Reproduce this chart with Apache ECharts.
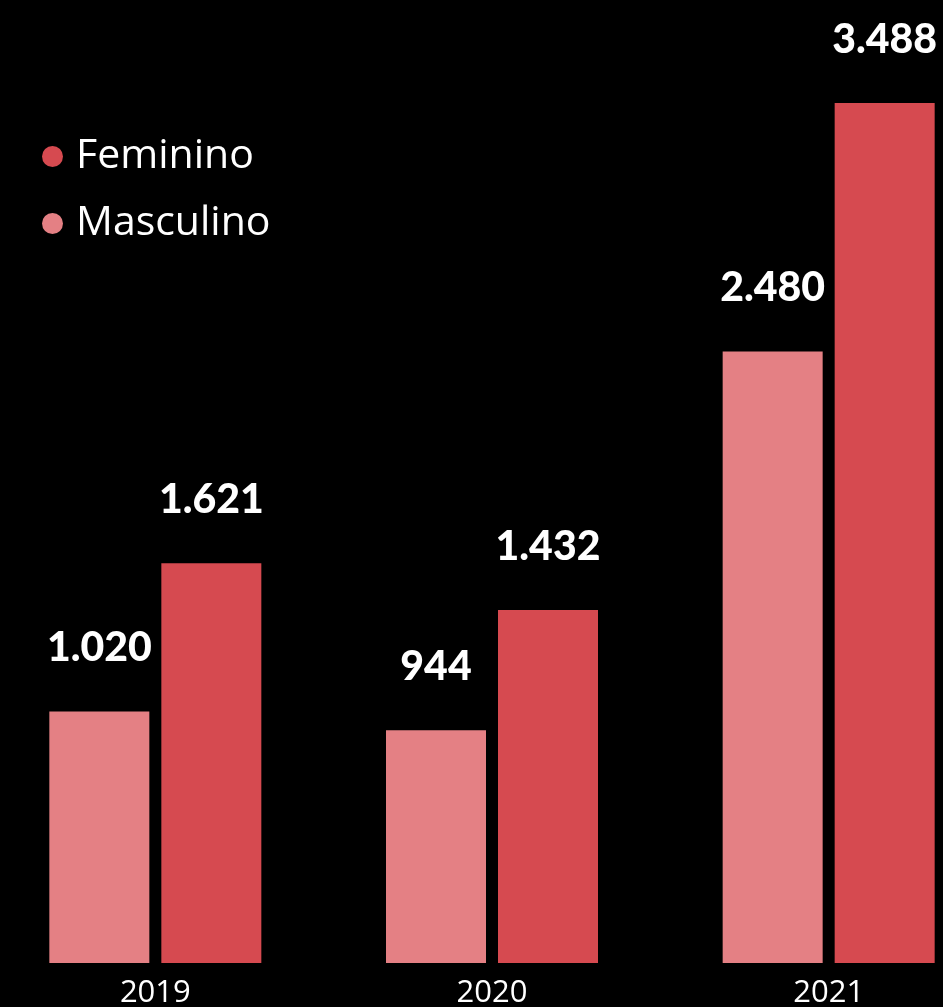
<!DOCTYPE html>
<html>
<head>
<meta charset="utf-8">
<script src="https://cdn.jsdelivr.net/npm/echarts@6/dist/echarts.min.js"></script>
<style>
  html, body { margin: 0; padding: 0; background: #000; }
  #chart { width: 943px; height: 1007px; }
</style>
</head>
<body>
<div id="chart"></div>
<script>
// Yearly totals split by sex
const years = ['2019', '2020', '2021'];
const masculino = [1020, 944, 2480];
const feminino = [1621, 1432, 3488];

const colorMasc = '#e48084';
const colorFem = '#d64a50';

// Brazilian thousands separator: 1620 -> "1.620"
function fmt(v) {
  return String(v).replace(/\B(?=(\d{3})+(?!\d))/g, '.');
}

const valueLabel = {
  show: true,
  position: 'top',
  distance: 43,
  color: '#fff',
  fontFamily: 'Lato',
  fontWeight: 900,
  fontSize: 41,
  formatter: p => fmt(p.value)
};

const chart = echarts.init(document.getElementById('chart'));
chart.setOption({
  backgroundColor: '#000',
  animation: false,
  legend: {
    data: ['Feminino', 'Masculino'],
    orient: 'vertical',
    left: 37,
    top: 131,
    icon: 'circle',
    itemWidth: 21,
    itemHeight: 21,
    itemGap: 26,
    textStyle: {
      color: '#fff',
      fontFamily: 'Open Sans',
      fontWeight: 400,
      fontSize: 41,
      lineHeight: 40,
      padding: [0, 0, 0, 8]
    }
  },
  grid: { left: -13, width: 1010, top: 0, bottom: 44, outerBoundsMode: 'none' },
  xAxis: {
    type: 'category',
    data: years,
    axisLine: { show: false },
    axisTick: { show: false },
    axisLabel: {
      color: '#fff',
      fontFamily: 'Open Sans',
      fontWeight: 500,
      fontSize: 31,
      margin: 15
    }
  },
  yAxis: {
    type: 'value',
    min: 0,
    max: 3906,
    show: false,
    splitLine: { show: false }
  },
  series: [
    {
      name: 'Masculino',
      type: 'bar',
      data: masculino,
      barWidth: 100,
      barGap: '12%',
      itemStyle: { color: colorMasc },
      label: valueLabel
    },
    {
      name: 'Feminino',
      type: 'bar',
      data: feminino,
      barWidth: 100,
      barGap: '12%',
      itemStyle: { color: colorFem },
      label: valueLabel
    }
  ]
});
</script>
</body>
</html>
